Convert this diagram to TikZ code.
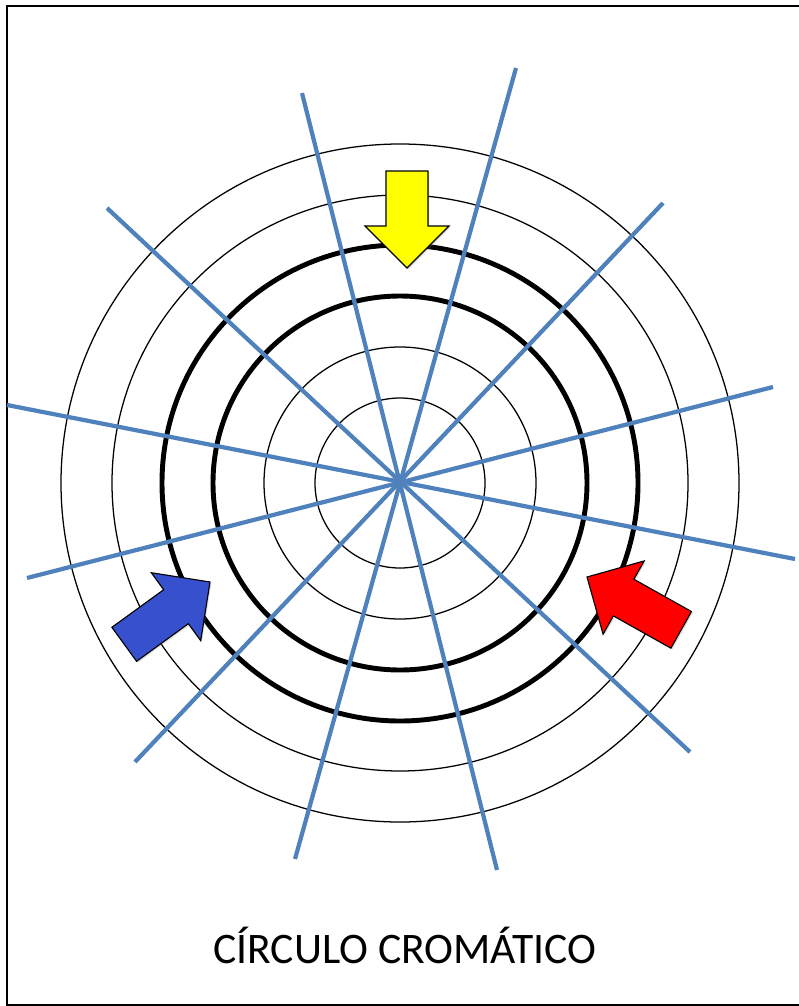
\documentclass[tikz,border=0pt]{standalone}
\usepackage{fontspec}
\setmainfont{Carlito}
\usetikzlibrary{shadows}
\definecolor{ccspoke}{RGB}{79,129,189}
\definecolor{ccyellow}{RGB}{255,255,0}
\definecolor{ccblue}{RGB}{55,80,205}
\definecolor{ccred}{RGB}{255,0,0}

\tikzset{
  ring/.style={black,line width=0.9pt},
  boldring/.style={black,line width=3.5pt},
  spoke/.style={ccspoke,line width=3pt},
  pics/colarrow/.style 2 args={code={
    \filldraw[fill=#1,draw=black,line width=0.8pt,
      drop shadow={shadow xshift=1pt,shadow yshift=-1pt,opacity=0.25}]
      (0,0) -- (-42,42) -- (-42,21) -- (-#2,21) -- (-#2,-21)
      -- (-42,-21) -- (-42,-42) -- cycle;
  }}
}

\begin{document}
\begin{tikzpicture}[x=0.025cm,y=-0.025cm]
  \useasboundingbox (0,0) rectangle (799,1006);
  \draw[line width=1.4pt] (7,6) rectangle (812,1005);
  \coordinate (O) at (400,483);
  % spoke ends
  \coordinate (s1a) at (302,93);  \coordinate (s1b) at (497,870);
  \coordinate (s2a) at (516,68);  \coordinate (s2b) at (295,859);
  \coordinate (s3a) at (663,203); \coordinate (s3b) at (135,762);
  \coordinate (s4a) at (773,387); \coordinate (s4b) at (27,578);
  \coordinate (s5a) at (795,559); \coordinate (s5b) at (7,405);
  \coordinate (s6a) at (690,752); \coordinate (s6b) at (107,208);
  % rings
  \foreach \r in {85,136,288,339} \draw[ring] (O) circle (\r);
  \foreach \r in {187,238} \draw[boldring] (O) circle (\r);
  % spokes
  \foreach \i in {1,...,6} \draw[spoke] (s\i a) -- (s\i b);
  % primaries
  \pic[rotate=-90] at (407,268) {colarrow={ccyellow}{97}};
  \pic[rotate=36] at (210,582) {colarrow={ccblue}{106}};
  \pic[rotate=150.7] at (587,577) {colarrow={ccred}{108}};
  \node[font=\fontsize{31}{38}\selectfont,anchor=base] (title) at (405,963)
    {CÍRCULO CROMÁTICO};
\end{tikzpicture}
\end{document}
